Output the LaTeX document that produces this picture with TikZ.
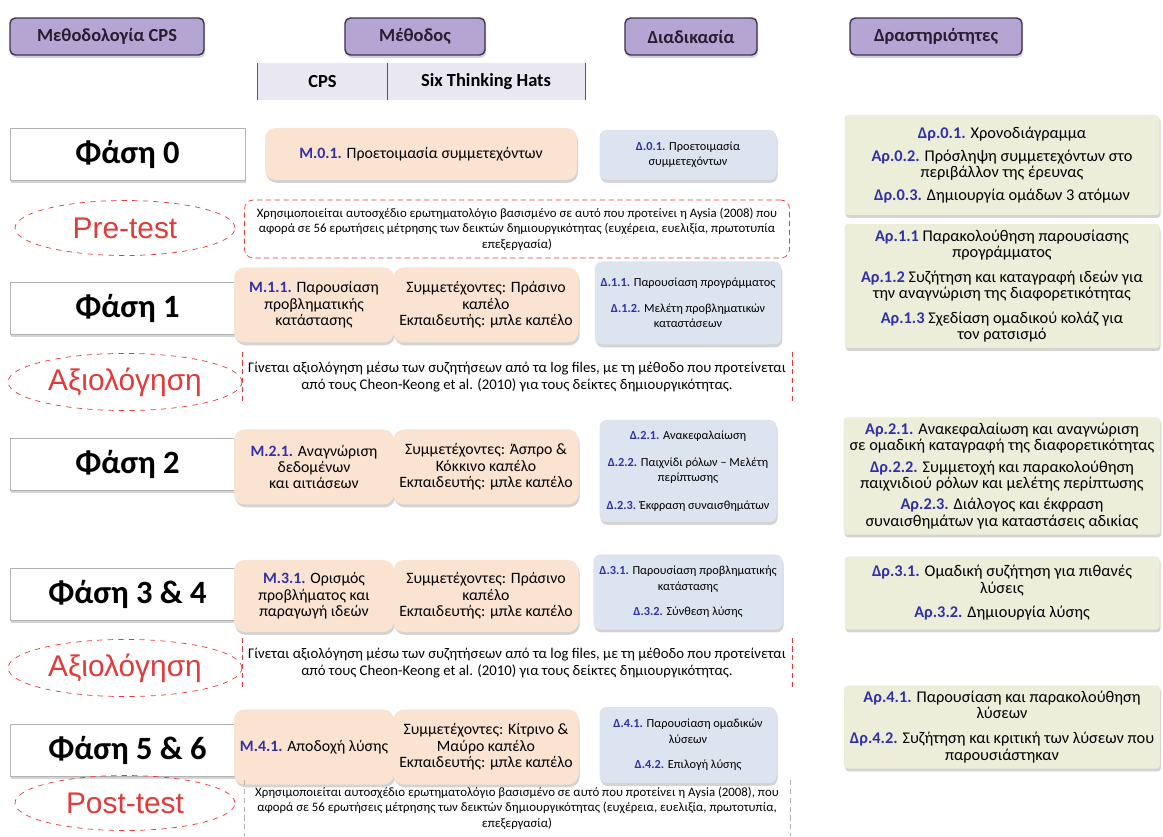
\documentclass[tikz,border=0pt]{standalone}
\usepackage{fontspec}
\usepackage{xcolor}
\setmainfont{Carlito}
\newfontfamily\arialfont{Liberation Sans}
\usetikzlibrary{shadows,shapes.geometric}

\definecolor{hdrfill}{HTML}{B4A5D2}
\definecolor{hdrline}{HTML}{3F3151}
\definecolor{subfill}{HTML}{E9E7F1}
\definecolor{methfill}{HTML}{FBE3D2}
\definecolor{procfill}{HTML}{DCE4F0}
\definecolor{actfill}{HTML}{ECEEDA}
\definecolor{codeblue}{HTML}{3030A8}
\definecolor{testred}{HTML}{E03A3A}

\newcommand{\kw}[1]{{\color{codeblue}\bfseries #1}}
\newcommand{\pxu}{0.02cm}

\tikzset{
  wd/.style={minimum width=#1*\pxu},
  ht/.style={minimum height=#1*\pxu},
  shade/.style={drop shadow={shadow xshift=0.6pt, shadow yshift=-1.6pt, opacity=0.35}},
  header/.style={rectangle, rounded corners=3pt, draw=hdrline, thick, fill=hdrfill, shade,
    ht=37, font=\fontsize{10.5}{12}\selectfont\bfseries, text=hdrline!60!black},
  subhead/.style={rectangle, fill=subfill, ht=37,
    font=\fontsize{10.5}{12}\selectfont\bfseries},
  phase/.style={rectangle, draw=gray!60, fill=white, shade, wd=235, ht=52,
    font=\fontsize{18.5}{20}\selectfont\bfseries},
  test/.style={ellipse, draw=testred, dashed, wd=220, ht=55, text=testred,
    font=\arialfont\fontsize{17}{19}\selectfont},
  method/.style={rectangle, rounded corners=6pt, fill=methfill, shade, align=center,
    font=\fontsize{9}{9.3}\selectfont},
  proc/.style={rectangle, rounded corners=4pt, fill=procfill, shade, wd=177, align=center,
    font=\fontsize{7}{8.6}\selectfont},
  activ/.style={rectangle, rounded corners=2pt, fill=actfill, shade, wd=315, align=center,
    font=\fontsize{9.3}{9.2}\selectfont},
  note/.style={rectangle, wd=545, align=center, font=\fontsize{7.3}{8.8}\selectfont},
  redside/.style={draw=testred, densely dashed}
}

\begin{document}
\begin{tikzpicture}[x=0.02cm, y=-0.02cm]
\useasboundingbox (0,0) rectangle (1163,837);

% headers
\node[header, wd=194] (hcps) at (107,36.5) {Μεθοδολογία CPS};
\node[header, wd=140] (hmeth) at (415,36.5) {Μέθοδος};
\node[header, wd=132] (hproc) at (691,36.5) {Διαδικασία};
\node[header, wd=172] (hact) at (936,36.5) {Δραστηριότητες};

\node[subhead, wd=129] (scps) at (322.5,81.5) {CPS};
\node[subhead, wd=198] (shats) at (486,81.5) {Six Thinking Hats};
\draw[gray!70!black] (scps.north west) -- (scps.south west)
  (scps.north east) -- (scps.south east)
  (shats.north east) -- (shats.south east);

% phase column
\node[phase] (f0) at (127.5,154) {Φάση 0};
\node[test] (pre) at (125,228) {Pre-test};
\node[phase] (f1) at (127.5,308) {Φάση 1};
\node[test] (eval1) at (125,382) {Αξιολόγηση};
\node[phase] (f2) at (127.5,464) {Φάση 2};
\node[phase] (f34) at (127.5,594) {Φάση 3 \& 4};
\node[test] (eval2) at (125,668) {Αξιολόγηση};
\node[phase] (f56) at (127.5,750) {Φάση 5 \& 6};
\node[test] (post) at (125,803) {Post-test};

% method column
\node[method, wd=312, ht=52] (m01) at (421,154) {\kw{M.0.1.} Προετοιμασία συμμετεχόντων};
\node[method, wd=160, ht=75] (m11) at (314,305) {\kw{M.1.1.} Παρουσίαση\\προβληματικής\\κατάστασης};
\node[method, wd=180, ht=75] (s11) at (486,305) {Συμμετέχοντες: Πράσινο\\καπέλο\\Εκπαιδευτής: μπλε καπέλο};
\node[method, wd=160, ht=75] (m21) at (314,467) {\kw{M.2.1.} Αναγνώριση\\δεδομένων\\και αιτιάσεων};
\node[method, wd=180, ht=75] (s21) at (486,467) {Συμμετέχοντες: Άσπρο \&\\Κόκκινο καπέλο\\Εκπαιδευτής: μπλε καπέλο};
\node[method, wd=160, ht=72] (m31) at (314,596) {\kw{M.3.1.} Ορισμός\\προβλήματος και\\παραγωγή ιδεών};
\node[method, wd=180, ht=72] (s31) at (486,596) {Συμμετέχοντες: Πράσινο\\καπέλο\\Εκπαιδευτής: μπλε καπέλο};
\node[method, wd=160, ht=75] (m41) at (314,747) {\kw{M.4.1.} Αποδοχή λύσης};
\node[method, wd=180, ht=75] (s41) at (486,747) {Συμμετέχοντες: Κίτρινο \&\\Μαύρο καπέλο\\Εκπαιδευτής: μπλε καπέλο};

% process column
\node[proc, ht=50] (p0) at (688,155) {\kw{Δ.0.1.} Προετοιμασία\\συμμετεχόντων};
\node[proc, ht=83] (p1) at (688,303) {\kw{Δ.1.1.} Παρουσίαση προγράμματος\\[6pt]\kw{Δ.1.2.} Μελέτη προβληματικών\\καταστάσεων};
\node[proc, ht=102] (p2) at (688,471) {\kw{Δ.2.1.} Ανακεφαλαίωση\\[7pt]\kw{Δ.2.2.} Παιχνίδι ρόλων – Μελέτη\\περίπτωσης\\[7pt]\kw{Δ.2.3.} Έκφραση συναισθημάτων};
\node[proc, ht=75] (p3) at (688,592) {\kw{Δ.3.1.} Παρουσίαση προβληματικής\\κατάστασης\\[6pt]\kw{Δ.3.2.} Σύνθεση λύσης};
\node[proc, ht=76] (p4) at (688,745) {\kw{Δ.4.1.} Παρουσίαση ομαδικών\\λύσεων\\[6pt]\kw{Δ.4.2.} Επιλογή λύσης};

% activity column
\node[activ, ht=100] (a0) at (1002,165) {\kw{Δρ.0.1.} Χρονοδιάγραμμα\\[4pt]\kw{Αρ.0.2.} Πρόσληψη συμμετεχόντων στο\\περιβάλλον της έρευνας\\[4pt]\kw{Δρ.0.3.} Δημιουργία ομάδων 3 ατόμων};
\node[activ, ht=117] (a1) at (1002,286) {\kw{Αρ.1.1} Παρακολούθηση παρουσίασης\\προγράμματος\\[5pt]\kw{Αρ.1.2} Συζήτηση και καταγραφή ιδεών για\\την αναγνώριση της διαφορετικότητας\\[5pt]\kw{Αρ.1.3} Σχεδίαση ομαδικού κολάζ για\\τον ρατσισμό};
\node[activ, ht=102] (a2) at (1002,476) {\kw{Αρ.2.1.} Ανακεφαλαίωση και αναγνώριση\\σε ομαδική καταγραφή της διαφορετικότητας\\[3pt]\kw{Δρ.2.2.} Συμμετοχή και παρακολούθηση\\παιχνιδιού ρόλων και μελέτης περίπτωσης\\[3pt]\kw{Αρ.2.3.} Διάλογος και έκφραση\\συναισθημάτων για καταστάσεις αδικίας};
\node[activ, ht=73] (a3) at (1002,593) {\kw{Δρ.3.1.} Ομαδική συζήτηση για πιθανές\\λύσεις\\[5pt]\kw{Αρ.3.2.} Δημιουργία λύσης};
\node[activ, ht=75] (a4) at (1002,727) {\kw{Αρ.4.1.} Παρουσίαση και παρακολούθηση\\λύσεων\\[5pt]\kw{Δρ.4.2.} Συζήτηση και κριτική των λύσεων που\\παρουσιάστηκαν};

% test and evaluation notes
\node[note, ht=58, draw=testred, densely dashed, rounded corners=5pt] (npre) at (517,229) {Χρησιμοποιείται αυτοσχέδιο ερωτηματολόγιο βασισμένο σε αυτό που προτείνει η Aysia (2008) που\\αφορά σε 56 ερωτήσεις μέτρησης των δεικτών δημιουργικότητας (ευχέρεια, ευελιξία, πρωτοτυπία\\επεξεργασία)};
\node[note, ht=50, font=\fontsize{8.4}{9.5}\selectfont] (nev1) at (517,377) {Γίνεται αξιολόγηση μέσω των συζητήσεων από τα log files, με τη μέθοδο που προτείνεται\\από τους Cheon-Keong et al. (2010) για τους δείκτες δημιουργικότητας.};
\node[note, ht=50, font=\fontsize{8.4}{9.5}\selectfont] (nev2) at (517,663) {Γίνεται αξιολόγηση μέσω των συζητήσεων από τα log files, με τη μέθοδο που προτείνεται\\από τους Cheon-Keong et al. (2010) για τους δείκτες δημιουργικότητας.};
\node[note, ht=55] (npost) at (517,808) {Χρησιμοποιείται αυτοσχέδιο ερωτηματολόγιο βασισμένο σε αυτό που προτείνει η Aysia (2008), που\\αφορά σε 56 ερωτήσεις μέτρησης των δεικτών δημιουργικότητας (ευχέρεια, ευελιξία, πρωτοτυπία,\\επεξεργασία)};
\draw[redside] (nev1.north west) -- (nev1.south west) (nev1.north east) -- (nev1.south east);
\draw[redside] (nev2.north west) -- (nev2.south west) (nev2.north east) -- (nev2.south east);
\draw[redside, gray!60] (npost.north west) -- (npost.south west) (npost.north east) -- (npost.south east);
\end{tikzpicture}
\end{document}
